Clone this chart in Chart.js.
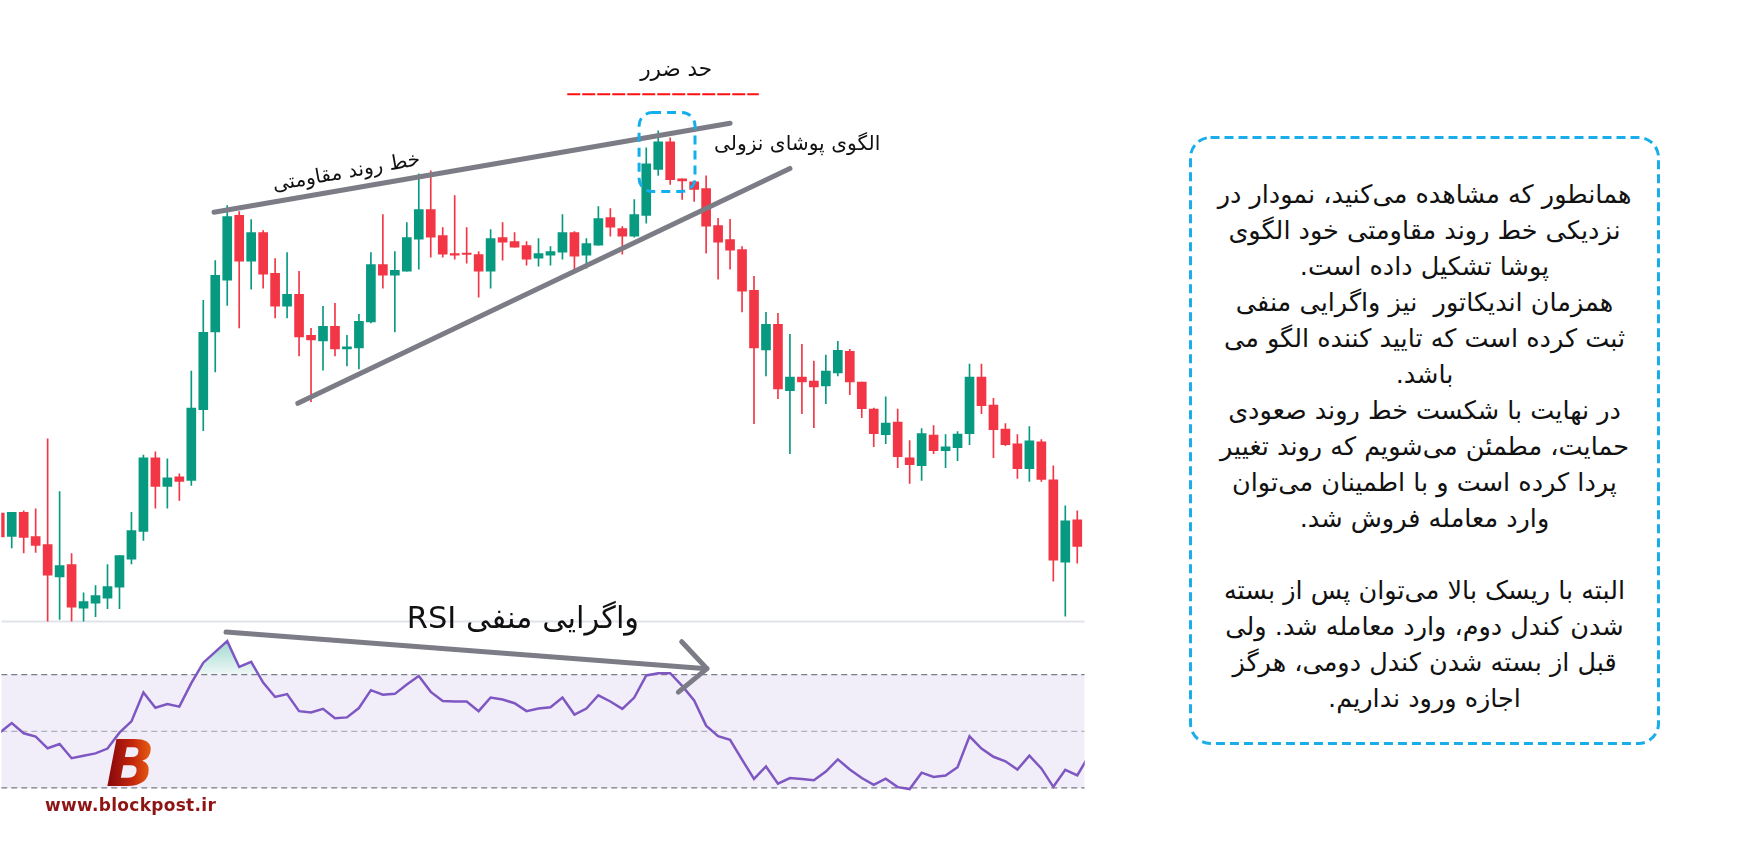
<!DOCTYPE html>
<html lang="fa">
<head>
<meta charset="utf-8">
<title>الگوی پوشای نزولی</title>
<script src="https://cdn.jsdelivr.net/npm/chart.js@4.4.1/dist/chart.umd.min.js"></script>
<style>
  html, body { margin: 0; padding: 0; background: #fff; }
  body { width: 1763px; height: 845px; position: relative; overflow: hidden; font-family: "DejaVu Sans", sans-serif; }
  #chartBox { position: absolute; left: 0; top: 0; width: 1086px; height: 845px; }
  #note { position: absolute; left: 1189px; top: 136px; width: 471px; height: 609px; }
  #note svg { position: absolute; left: 0; top: 0; }
  #noteText { position: absolute; left: 0; top: 40px; width: 471px; direction: rtl; text-align: center;
              font-size: 25.5px; line-height: 36px; color: #111; white-space: pre; }
  #logoB { position: absolute; left: 106px; top: 732px; font: italic bold 64px "DejaVu Sans", sans-serif;
           background: linear-gradient(90deg, #8e0b0b 10%, #c5270d 55%, #ee6a12 100%);
           -webkit-background-clip: text; background-clip: text; color: transparent; line-height: 64px; }
  #logoUrl { position: absolute; left: 45px; top: 795px; font: bold 17px "DejaVu Sans", sans-serif;
             color: #8f1414; letter-spacing: 0.3px; }
</style>
</head>
<body>
<div id="chartBox"><canvas id="candles" width="1086" height="845"></canvas></div>

<div id="note">
  <svg width="471" height="609">
    <rect x="1.5" y="1.5" width="468" height="606" rx="20" ry="20" fill="none"
          stroke="#19aeea" stroke-width="3" stroke-dasharray="9 5"/>
  </svg>
  <div id="noteText"><div>همانطور که مشاهده می‌کنید، نمودار در</div><div>نزدیکی خط روند مقاومتی خود الگوی</div><div>پوشا تشکیل داده است.</div><div>همزمان اندیکاتور  نیز واگرایی منفی</div><div>ثبت کرده است که تایید کننده الگو می</div><div>باشد.</div><div>در نهایت با شکست خط روند صعودی</div><div>حمایت، مطمئن می‌شویم که روند تغییر</div><div>پردا کرده است و با اطمینان می‌توان</div><div>وارد معامله فروش شد.</div><div> </div><div>البته با ریسک بالا می‌توان پس از بسته</div><div>شدن کندل دوم، وارد معامله شد. ولی</div><div>قبل از بسته شدن کندل دومی، هرگز</div><div>اجازه ورود نداریم.</div></div>
</div>

<div id="logoB">B</div>
<div id="logoUrl">www.blockpost.ir</div>

<script>
// candle values (oldest first), price units
const open = [486.7,463.3,487.3,463,455,422.7,435,391.3,396.3,401.3,412.3,440.3,468.3,542,513.3,523,519.3,590.3,668.3,720.3,
  785.3,739.3,768,727,694.3,706,665,659.3,674,651.3,652.3,678.3,736,725.3,729.3,761.3,791,765,747,747,
  746,729.3,763,759,755,742.3,745.3,748.3,768,745.3,755.3,783,772,764.3,785.3,831.3,859,822,819,812,
  775,761,751,710,650.3,676,609.3,623,619,614.3,627.3,649,618,591,565.3,578,542,534.3,565,549.3,
  552.3,566.3,623,595,571,556,531.3,558,520,437.3,480];
const high = [492,487.3,489,491,561,508.3,446,406.7,414,435,444,487.3,544.7,548,541,526,629,700,740,795,
  789,781,770,742,748,729,672,694,697,665,686,748,786,749,778,827,830,773,805,773,
  749,771,778,768,759,762,754,786,769,762,794,792,774,801,853,870,863,822,819,825,
  782.3,781.3,754,724,688,687,666,656,639,645,659,651,618,592,603.3,591,559.3,571.3,574.3,565.3,
  568.3,636,636,601.7,576.3,565.3,573.3,560.3,534,494,489];
const low = [455,451.7,446.7,447.3,378.3,380,378.3,378.3,382.7,390.7,390.7,435.7,459.3,491.7,491.7,499.3,514.3,569.3,628.3,695,
  672.3,711.3,712.3,682.3,682.3,644.3,598.3,630,644.3,634.3,631.3,677.3,712.3,668.3,729.3,731.3,743.3,743.3,741.3,737.3,
  703.3,712.3,740.3,753.3,735.3,734.3,735.3,741.3,729.3,732.3,755.3,764.3,746.3,763.3,777.3,825.3,816.3,801.3,799.3,747.3,
  721.3,731.3,688.3,576.3,624.3,601.3,546.3,586.3,572.3,596.3,624.3,605.3,582.3,553.3,556.3,532.3,516.3,519.3,546.3,532.3,
  539.3,555.3,586.3,542.3,554.3,521.3,518.3,518.3,418.3,383.3,436.3];
const close = [462.7,487.3,462.3,454.3,424.3,434,392.3,398,404,413,444,469,542,513.3,522,518.3,592,668,725,784,
  739.3,768,726.3,694.3,706,663.3,660.3,674,651.3,653.3,679,736,725.3,730,763,791,763.3,746.3,745.3,746,
  729.3,762,758.3,753.3,741.3,747,749,768,744.3,757,782,773.3,764.3,786,837,859,821,819.7,811.3,774.3,
  758.3,750.3,709.3,652.3,676,611.3,623,618.3,613.3,629,650,618.3,591.3,566.3,577,543.3,535.3,566.3,549.3,553,
  566,623,594.3,570.3,555.3,531.3,559,520.3,439.3,479,453.3];

// RSI(14), one value per candle plus the one after the last visible candle
const rsi = [49.5,52.9,49.3,48.1,44.0,45.5,40.5,41.4,42.2,43.9,49.5,53.5,63.7,58.3,59.6,58.7,67.0,74.2,78.0,81.8,
  72.7,74.5,67.2,62.1,63.1,57.1,56.6,57.9,54.6,54.9,58.2,64.5,62.9,63.2,66.5,69.5,63.9,60.7,60.5,60.5,
  57.1,61.9,61.2,59.9,57.1,58.0,58.5,61.9,55.9,58.0,62.7,60.5,57.9,61.9,69.7,70.5,70.5,66.0,60.9,52.0,
  48.3,47.0,40.0,33.2,37.6,31.5,33.5,33.2,32.7,35.8,40.1,36.5,33.5,31.1,33.3,30.3,29.6,35.4,33.9,34.4,
  37.3,48.2,43.9,41.0,39.4,36.5,41.4,36.9,30.4,36.4,34.4,41.7];
const rsiLevels = [70, 50, 30];

// visible window of the two panes
const xMin = 0.125, xMax = 90.625;
const priceMin = 155, priceMax = 1000;
const rsiMin = 10.32, rsiMax = 307.55;
const paneFloor = 378;   // price where the price pane ends

const UP = '#089981', DOWN = '#f23645';
const isUp = i => close[i] >= open[i];
const candleColor = c => isUp(c.dataIndex) ? UP : DOWN;

const wicks = open.map((o, i) => ({ x: i, y: [low[i], high[i]] }));
const bodies = open.map((o, i) => ({ x: i, y: [Math.min(o, close[i]), Math.max(o, close[i])] }));
const rsiPts = rsi.map((v, i) => ({ x: i, y: v }));
const flat = v => [{ x: xMin, y: v }, { x: xMax, y: v }];

// drawings made on the chart, in chart units (candle index, price / RSI)
const resistLine = [[17.9, 788.3], [61.0, 877.7]];
const supportLine = [[24.9, 596.7], [66.0, 832.3]];
const divLine = [[18.9, 85.0], [59.07, 72.1]];
const divHead = [[56.96, 81.6], [56.68, 63.8]];
const patternBox = [53.4, 888.3, 58.07, 809.3];
const stopLine = [47.4, 63.4, 906.7];

const notes = {
  id: 'notes',
  afterDatasetsDraw(chart) {
    const { ctx, scales: { x, y, rsi: r } } = chart;
    const P = (i, v) => [x.getPixelForValue(i), y.getPixelForValue(v)];
    const R = (i, v) => [x.getPixelForValue(i), r.getPixelForValue(v)];
    ctx.save();
    ctx.lineCap = 'round';
    ctx.lineJoin = 'round';
    ctx.strokeStyle = '#7b7c86';
    ctx.lineWidth = 5;
    [resistLine, supportLine].forEach(l => {
      const a = P(...l[0]), b = P(...l[1]);
      ctx.beginPath(); ctx.moveTo(...a); ctx.lineTo(...b); ctx.stroke();
    });
    // divergence arrow on the RSI pane
    const d0 = R(...divLine[0]), d1 = R(...divLine[1]);
    ctx.beginPath(); ctx.moveTo(...d0); ctx.lineTo(...d1); ctx.stroke();
    ctx.beginPath(); ctx.moveTo(...R(...divHead[0])); ctx.lineTo(...d1); ctx.lineTo(...R(...divHead[1])); ctx.stroke();

    // engulfing pattern box
    const b0 = P(patternBox[0], patternBox[1]), b1 = P(patternBox[2], patternBox[3]);
    ctx.setLineDash([9, 6]);
    ctx.lineCap = 'butt';
    ctx.lineWidth = 3;
    ctx.strokeStyle = '#13aeee';
    ctx.beginPath();
    ctx.roundRect(b0[0], b0[1], b1[0] - b0[0], b1[1] - b0[1], 13);
    ctx.stroke();

    // stop loss line
    const s0 = P(stopLine[0], stopLine[2]), s1 = P(stopLine[1], stopLine[2]);
    ctx.setLineDash([13, 2]);
    ctx.lineWidth = 2;
    ctx.strokeStyle = '#ff1010';
    ctx.beginPath(); ctx.moveTo(...s0); ctx.lineTo(...s1); ctx.stroke();
    ctx.setLineDash([]);

    // labels
    ctx.fillStyle = '#111';
    ctx.direction = 'rtl';
    ctx.textAlign = 'center';
    ctx.textBaseline = 'middle';
    const label = (txt, pos, size, angle) => {
      ctx.save();
      ctx.font = size + 'px "DejaVu Sans", sans-serif';
      ctx.translate(...pos);
      if (angle) ctx.rotate(angle * Math.PI / 180);
      ctx.fillText(txt, 0, 0);
      ctx.restore();
    };
    label('حد ضرر', P(56.5, 930.7), 21.5);
    label('الگوی پوشای نزولی', P(66.6, 856.5), 20.2);
    label('خط روند مقاومتی', P(28.96, 828), 20, -10);
    label('واگرایی منفی RSI', P(43.7, 379), 30.5);
    ctx.restore();
  }
};

const chart = new Chart(document.getElementById('candles'), {
  type: 'bar',
  data: {
    datasets: [
      { type: 'line', data: flat(rsiLevels[0]), yAxisID: 'rsi', borderWidth: 0, pointRadius: 0,
        fill: { target: { value: rsiLevels[2] } }, backgroundColor: 'rgba(126,87,194,0.1)', order: 10 },
      { type: 'line', data: flat(rsiLevels[0]), yAxisID: 'rsi', borderColor: '#787b86', borderWidth: 1.2,
        borderDash: [6, 4], pointRadius: 0, fill: false, order: 9 },
      { type: 'line', data: flat(rsiLevels[1]), yAxisID: 'rsi', borderColor: 'rgba(120,123,134,0.55)', borderWidth: 1.2,
        borderDash: [6, 4], pointRadius: 0, fill: false, order: 9 },
      { type: 'line', data: flat(rsiLevels[2]), yAxisID: 'rsi', borderColor: '#787b86', borderWidth: 1.2,
        borderDash: [6, 4], pointRadius: 0, fill: false, order: 9 },
      { type: 'line', data: flat(paneFloor), yAxisID: 'y', borderColor: '#e0e3eb', borderWidth: 2,
        pointRadius: 0, fill: false, order: 8 },
      { data: wicks, yAxisID: 'y', backgroundColor: candleColor, barThickness: 1, grouped: false, order: 3 },
      { data: bodies, yAxisID: 'y', backgroundColor: candleColor, barThickness: 9, minBarLength: 1.5,
        grouped: false, order: 2 },
      { type: 'line', data: rsiPts, yAxisID: 'rsi', borderColor: '#7e57c2', borderWidth: 2.5, pointRadius: 0,
        tension: 0, fill: { target: { value: rsiLevels[0] }, above: 'rgba(8,153,129,0.15)', below: 'rgba(0,0,0,0)' },
        order: 1 }
    ]
  },
  options: {
    responsive: false,
    animation: false,
    events: [],
    layout: { padding: 0 },
    plugins: { legend: { display: false }, tooltip: { enabled: false } },
    scales: {
      x: { type: 'linear', min: xMin, max: xMax, offset: false, display: false },
      y: { min: priceMin, max: priceMax, display: false },
      rsi: { min: rsiMin, max: rsiMax, display: false, position: 'right' }
    }
  },
  plugins: [notes]
});

// fade of the overbought area, from the RSI peak down to the 70 line
const rs = chart.scales.rsi;
const grad = chart.ctx.createLinearGradient(0, rs.getPixelForValue(82), 0, rs.getPixelForValue(rsiLevels[0]));
grad.addColorStop(0, 'rgba(8,153,129,0.38)');
grad.addColorStop(1, 'rgba(8,153,129,0.06)');
chart.data.datasets[7].fill.above = grad;
chart.update('none');
</script>
</body>
</html>
